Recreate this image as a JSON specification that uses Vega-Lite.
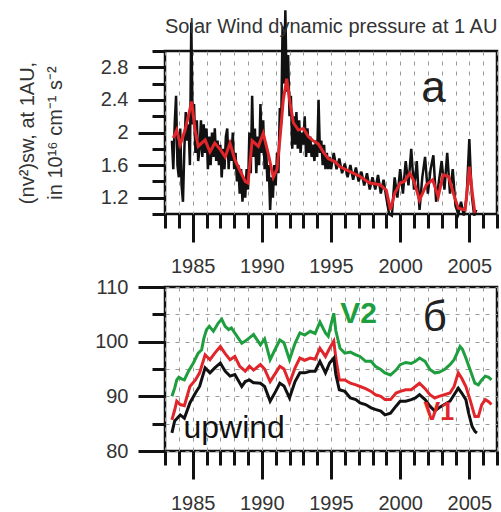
{
  "$schema": "https://vega.github.io/schema/vega-lite/v6.json",
  "padding": {"left": 15, "top": 4, "right": 0, "bottom": 0},
  "spacing": -3,
  "config": {
    "font": "Liberation Sans",
    "view": {"stroke": "#111", "strokeWidth": 2.5},
    "axis": {"domain": false, "tickColor": "#111", "tickWidth": 3, "labelColor": "#333", "labelFontSize": 20, "labelFont": "Liberation Sans", "titleFont": "Liberation Sans", "labelOverlap": false, "labelFlush": false, "gridDash": [4, 6], "gridColor": "#999", "gridWidth": 1}
  },
  "datasets": {
    "tb": [
      {"year":1983.5,"v":1.90},{"year":1983.6,"v":1.55},{"year":1983.7,"v":2.10},{"year":1983.8,"v":2.45},{"year":1983.9,"v":1.60},{"year":1984.0,"v":1.45},{"year":1984.1,"v":2.05},{"year":1984.2,"v":1.35},{"year":1984.3,"v":1.15},{"year":1984.4,"v":1.80},{"year":1984.5,"v":2.25},{"year":1984.6,"v":1.90},{"year":1984.7,"v":2.10},{"year":1984.8,"v":1.60},{"year":1984.9,"v":3.35},{"year":1985.0,"v":2.10},{"year":1985.1,"v":2.35},{"year":1985.2,"v":1.75},{"year":1985.3,"v":2.15},{"year":1985.4,"v":1.65},{"year":1985.5,"v":1.80},{"year":1985.6,"v":2.15},{"year":1985.7,"v":1.70},{"year":1985.8,"v":2.10},{"year":1985.9,"v":1.75},{"year":1986.0,"v":2.05},{"year":1986.1,"v":1.55},{"year":1986.2,"v":1.95},{"year":1986.3,"v":1.60},{"year":1986.4,"v":2.00},{"year":1986.5,"v":1.70},{"year":1986.6,"v":2.05},{"year":1986.7,"v":1.65},{"year":1986.8,"v":1.90},{"year":1986.9,"v":1.60},{"year":1987.0,"v":1.85},{"year":1987.1,"v":1.45},{"year":1987.2,"v":1.80},{"year":1987.3,"v":1.55},{"year":1987.4,"v":1.95},{"year":1987.5,"v":2.05},{"year":1987.6,"v":1.55},{"year":1987.7,"v":1.90},{"year":1987.8,"v":1.65},{"year":1987.9,"v":2.00},{"year":1988.0,"v":1.55},{"year":1988.1,"v":1.75},{"year":1988.2,"v":1.40},{"year":1988.3,"v":1.60},{"year":1988.4,"v":1.25},{"year":1988.5,"v":1.55},{"year":1988.6,"v":1.15},{"year":1988.7,"v":1.45},{"year":1988.8,"v":1.20},{"year":1988.9,"v":1.55},{"year":1989.0,"v":1.30},{"year":1989.1,"v":2.00},{"year":1989.2,"v":1.50},{"year":1989.3,"v":2.45},{"year":1989.4,"v":1.70},{"year":1989.5,"v":2.05},{"year":1989.6,"v":1.50},{"year":1989.7,"v":1.95},{"year":1989.8,"v":1.60},{"year":1989.9,"v":2.35},{"year":1990.0,"v":1.75},{"year":1990.1,"v":2.15},{"year":1990.2,"v":1.55},{"year":1990.3,"v":1.85},{"year":1990.4,"v":1.40},{"year":1990.5,"v":1.60},{"year":1990.6,"v":1.05},{"year":1990.7,"v":1.45},{"year":1990.8,"v":1.20},{"year":1990.9,"v":1.60},{"year":1991.0,"v":1.35},{"year":1991.1,"v":1.75},{"year":1991.2,"v":1.50},{"year":1991.3,"v":2.30},{"year":1991.4,"v":2.10},{"year":1991.5,"v":3.30},{"year":1991.6,"v":2.60},{"year":1991.7,"v":3.50},{"year":1991.8,"v":2.50},{"year":1991.9,"v":2.95},{"year":1992.0,"v":2.20},{"year":1992.1,"v":2.45},{"year":1992.2,"v":1.80},{"year":1992.3,"v":2.20},{"year":1992.4,"v":1.85},{"year":1992.5,"v":2.25},{"year":1992.6,"v":1.80},{"year":1992.7,"v":2.15},{"year":1992.8,"v":1.75},{"year":1992.9,"v":2.00},{"year":1993.0,"v":1.85},{"year":1993.1,"v":2.20},{"year":1993.2,"v":1.70},{"year":1993.3,"v":2.05},{"year":1993.4,"v":1.75},{"year":1993.5,"v":1.95},{"year":1993.6,"v":1.70},{"year":1993.7,"v":1.85},{"year":1993.8,"v":1.65},{"year":1993.9,"v":1.90},{"year":1994.0,"v":1.70},{"year":1994.1,"v":2.40},{"year":1994.2,"v":1.75},{"year":1994.3,"v":1.90},{"year":1994.4,"v":1.60},{"year":1994.5,"v":1.85},{"year":1994.6,"v":1.55},{"year":1994.7,"v":1.75},{"year":1994.8,"v":1.55},{"year":1994.9,"v":1.70},{"year":1995.0,"v":1.55},{"year":1995.2,"v":1.75},{"year":1995.4,"v":1.55},{"year":1995.6,"v":1.68},{"year":1995.8,"v":1.50},{"year":1996.0,"v":1.62},{"year":1996.2,"v":1.45},{"year":1996.4,"v":1.60},{"year":1996.6,"v":1.42},{"year":1996.8,"v":1.57},{"year":1997.0,"v":1.40},{"year":1997.2,"v":1.52},{"year":1997.4,"v":1.35},{"year":1997.6,"v":1.50},{"year":1997.8,"v":1.30},{"year":1998.0,"v":1.45},{"year":1998.2,"v":1.30},{"year":1998.4,"v":1.48},{"year":1998.6,"v":1.25},{"year":1998.8,"v":1.42},{"year":1999.0,"v":1.20},{"year":1999.2,"v":1.00},{"year":1999.4,"v":0.98},{"year":1999.6,"v":1.45},{"year":1999.8,"v":1.20},{"year":2000.0,"v":1.55},{"year":2000.2,"v":1.25},{"year":2000.4,"v":1.65},{"year":2000.6,"v":1.35},{"year":2000.8,"v":1.80},{"year":2001.0,"v":1.30},{"year":2001.2,"v":1.65},{"year":2001.4,"v":1.05},{"year":2001.6,"v":1.45},{"year":2001.8,"v":1.70},{"year":2002.0,"v":1.25},{"year":2002.2,"v":1.55},{"year":2002.4,"v":1.72},{"year":2002.6,"v":1.15},{"year":2002.8,"v":1.40},{"year":2003.0,"v":1.65},{"year":2003.2,"v":1.30},{"year":2003.4,"v":1.75},{"year":2003.6,"v":1.25},{"year":2003.8,"v":1.55},{"year":2004.0,"v":1.10},{"year":2004.2,"v":1.00},{"year":2004.4,"v":1.15},{"year":2004.6,"v":0.98},{"year":2004.8,"v":1.20},{"year":2005.0,"v":1.92},{"year":2005.1,"v":1.50},{"year":2005.2,"v":1.20},{"year":2005.35,"v":0.98},{"year":2005.5,"v":1.05}
    ],
    "tr": [
      {"year":1983.6,"v":1.93},{"year":1983.85,"v":2.03},{"year":1984.1,"v":1.85},{"year":1984.45,"v":2.03},{"year":1984.93,"v":2.38},{"year":1985.17,"v":2.03},{"year":1985.4,"v":1.83},{"year":1985.9,"v":1.91},{"year":1986.25,"v":1.76},{"year":1986.6,"v":1.87},{"year":1987.0,"v":1.79},{"year":1987.35,"v":1.70},{"year":1987.7,"v":1.87},{"year":1988.06,"v":1.66},{"year":1988.4,"v":1.54},{"year":1988.8,"v":1.40},{"year":1989.0,"v":1.38},{"year":1989.3,"v":1.90},{"year":1989.75,"v":1.83},{"year":1990.1,"v":1.99},{"year":1990.45,"v":1.75},{"year":1990.83,"v":1.45},{"year":1991.1,"v":1.55},{"year":1991.35,"v":2.0},{"year":1991.55,"v":2.40},{"year":1991.8,"v":2.66},{"year":1992.04,"v":2.36},{"year":1992.28,"v":2.12},{"year":1992.64,"v":2.03},{"year":1993.0,"v":2.05},{"year":1993.36,"v":1.95},{"year":1993.7,"v":1.90},{"year":1994.08,"v":1.86},{"year":1994.45,"v":1.76},{"year":1994.8,"v":1.68},{"year":1995.3,"v":1.64},{"year":1995.65,"v":1.58},{"year":1996.38,"v":1.52},{"year":1997.1,"v":1.46},{"year":1997.8,"v":1.38},{"year":1998.55,"v":1.36},{"year":1999.0,"v":1.29},{"year":1999.3,"v":1.05},{"year":1999.6,"v":1.25},{"year":2000.0,"v":1.38},{"year":2000.3,"v":1.40},{"year":2000.7,"v":1.50},{"year":2001.0,"v":1.40},{"year":2001.4,"v":1.17},{"year":2001.9,"v":1.36},{"year":2002.35,"v":1.42},{"year":2002.75,"v":1.21},{"year":2003.1,"v":1.48},{"year":2003.5,"v":1.46},{"year":2003.85,"v":1.25},{"year":2004.2,"v":1.07},{"year":2004.7,"v":1.05},{"year":2004.85,"v":1.30},{"year":2005.0,"v":1.58},{"year":2005.25,"v":1.21},{"year":2005.4,"v":1.01}
    ],
    "bg": [
      {"year":1983.5,"v":90.0},{"year":1983.7,"v":91.5},{"year":1983.85,"v":93.0},{"year":1984.0,"v":93.5},{"year":1984.2,"v":93.2},{"year":1984.4,"v":93.0},{"year":1984.7,"v":94.6},{"year":1985.05,"v":96.1},{"year":1985.4,"v":97.9},{"year":1985.65,"v":98.5},{"year":1985.8,"v":100.5},{"year":1986.0,"v":102.2},{"year":1986.2,"v":102.8},{"year":1986.5,"v":101.9},{"year":1986.85,"v":103.4},{"year":1987.1,"v":104.1},{"year":1987.35,"v":102.8},{"year":1987.6,"v":102.2},{"year":1987.8,"v":102.5},{"year":1988.2,"v":101.0},{"year":1988.55,"v":99.7},{"year":1988.8,"v":100.1},{"year":1989.1,"v":100.7},{"year":1989.4,"v":101.3},{"year":1989.9,"v":99.4},{"year":1990.2,"v":100.5},{"year":1990.6,"v":96.7},{"year":1991.0,"v":98.8},{"year":1991.3,"v":100.3},{"year":1991.6,"v":99.8},{"year":1992.0,"v":96.7},{"year":1992.4,"v":99.7},{"year":1992.75,"v":101.6},{"year":1993.1,"v":101.2},{"year":1993.5,"v":101.9},{"year":1993.85,"v":101.5},{"year":1994.2,"v":103.6},{"year":1994.6,"v":101.6},{"year":1994.8,"v":101.0},{"year":1995.2,"v":105.2},{"year":1995.35,"v":102.0},{"year":1995.65,"v":98.8},{"year":1996.0,"v":97.9},{"year":1996.4,"v":98.1},{"year":1996.8,"v":97.6},{"year":1997.1,"v":97.3},{"year":1997.5,"v":96.4},{"year":1997.9,"v":96.4},{"year":1998.2,"v":95.5},{"year":1998.6,"v":94.9},{"year":1998.9,"v":94.3},{"year":1999.3,"v":93.9},{"year":1999.7,"v":94.8},{"year":2000.0,"v":95.8},{"year":2000.4,"v":96.2},{"year":2000.8,"v":96.0},{"year":2001.1,"v":96.4},{"year":2001.4,"v":97.0},{"year":2001.8,"v":96.4},{"year":2002.15,"v":94.9},{"year":2002.5,"v":94.3},{"year":2002.8,"v":94.4},{"year":2003.2,"v":94.9},{"year":2003.6,"v":95.8},{"year":2003.9,"v":96.7},{"year":2004.33,"v":99.1},{"year":2004.5,"v":98.6},{"year":2004.75,"v":97.0},{"year":2005.05,"v":94.9},{"year":2005.4,"v":92.4},{"year":2005.65,"v":92.1},{"year":2005.9,"v":93.0},{"year":2006.15,"v":93.7},{"year":2006.4,"v":93.5},{"year":2006.6,"v":93.0}
    ],
    "br": [
      {"year":1983.5,"v":85.7},{"year":1983.7,"v":87.5},{"year":1983.85,"v":89.1},{"year":1984.1,"v":88.5},{"year":1984.4,"v":88.3},{"year":1984.8,"v":91.8},{"year":1985.2,"v":93.0},{"year":1985.5,"v":94.3},{"year":1985.9,"v":97.6},{"year":1986.25,"v":96.7},{"year":1986.6,"v":97.9},{"year":1987.0,"v":99.1},{"year":1987.35,"v":97.8},{"year":1987.7,"v":96.7},{"year":1988.05,"v":97.3},{"year":1988.4,"v":95.5},{"year":1988.8,"v":94.6},{"year":1989.1,"v":95.5},{"year":1989.4,"v":94.8},{"year":1989.9,"v":95.8},{"year":1990.2,"v":95.0},{"year":1990.6,"v":92.7},{"year":1991.0,"v":94.3},{"year":1991.3,"v":95.5},{"year":1991.6,"v":95.0},{"year":1992.0,"v":92.4},{"year":1992.4,"v":95.2},{"year":1992.75,"v":97.0},{"year":1993.1,"v":96.6},{"year":1993.5,"v":97.0},{"year":1993.85,"v":96.8},{"year":1994.2,"v":98.8},{"year":1994.6,"v":97.3},{"year":1994.9,"v":98.8},{"year":1995.2,"v":100.1},{"year":1995.35,"v":97.0},{"year":1995.6,"v":93.0},{"year":1996.0,"v":93.0},{"year":1996.4,"v":92.4},{"year":1996.8,"v":92.1},{"year":1997.1,"v":91.8},{"year":1997.5,"v":91.4},{"year":1997.9,"v":90.9},{"year":1998.2,"v":90.3},{"year":1998.6,"v":90.0},{"year":1998.9,"v":89.4},{"year":1999.3,"v":89.4},{"year":1999.7,"v":90.6},{"year":2000.0,"v":90.9},{"year":2000.4,"v":91.2},{"year":2000.8,"v":91.2},{"year":2001.1,"v":91.8},{"year":2001.4,"v":92.4},{"year":2001.8,"v":91.4},{"year":2002.15,"v":90.3},{"year":2002.5,"v":89.7},{"year":2002.8,"v":90.0},{"year":2003.2,"v":90.3},{"year":2003.6,"v":90.6},{"year":2003.9,"v":91.8},{"year":2004.2,"v":94.3},{"year":2004.45,"v":93.3},{"year":2004.75,"v":91.8},{"year":2005.05,"v":89.4},{"year":2005.4,"v":86.3},{"year":2005.65,"v":86.3},{"year":2005.9,"v":88.5},{"year":2006.15,"v":89.4},{"year":2006.4,"v":89.0},{"year":2006.6,"v":88.5}
    ],
    "bk": [
      {"year":1983.5,"v":83.3},{"year":1983.7,"v":85.5},{"year":1984.1,"v":86.6},{"year":1984.4,"v":86.0},{"year":1984.8,"v":88.8},{"year":1985.2,"v":90.6},{"year":1985.5,"v":91.8},{"year":1985.9,"v":95.2},{"year":1986.25,"v":94.3},{"year":1986.6,"v":95.2},{"year":1987.0,"v":96.1},{"year":1987.35,"v":94.6},{"year":1987.7,"v":93.7},{"year":1988.05,"v":94.0},{"year":1988.55,"v":91.8},{"year":1988.8,"v":92.7},{"year":1989.1,"v":93.0},{"year":1989.4,"v":92.5},{"year":1989.9,"v":92.4},{"year":1990.2,"v":91.8},{"year":1990.6,"v":89.1},{"year":1991.0,"v":90.9},{"year":1991.3,"v":92.4},{"year":1991.6,"v":91.9},{"year":1992.0,"v":89.7},{"year":1992.4,"v":92.7},{"year":1992.75,"v":94.3},{"year":1993.1,"v":94.3},{"year":1993.5,"v":94.6},{"year":1993.85,"v":94.6},{"year":1994.2,"v":96.4},{"year":1994.6,"v":94.3},{"year":1994.9,"v":96.1},{"year":1995.2,"v":97.0},{"year":1995.35,"v":94.0},{"year":1995.6,"v":91.2},{"year":1996.0,"v":90.9},{"year":1996.4,"v":89.7},{"year":1996.8,"v":89.4},{"year":1997.1,"v":88.8},{"year":1997.5,"v":88.5},{"year":1997.9,"v":87.9},{"year":1998.2,"v":87.6},{"year":1998.6,"v":87.3},{"year":1998.9,"v":86.6},{"year":1999.3,"v":86.9},{"year":1999.7,"v":88.2},{"year":2000.0,"v":89.1},{"year":2000.4,"v":89.1},{"year":2000.8,"v":89.4},{"year":2001.1,"v":89.7},{"year":2001.4,"v":90.3},{"year":2001.8,"v":89.4},{"year":2002.15,"v":88.2},{"year":2002.5,"v":87.3},{"year":2002.8,"v":87.9},{"year":2003.2,"v":88.5},{"year":2003.6,"v":89.1},{"year":2003.9,"v":90.3},{"year":2004.2,"v":91.5},{"year":2004.45,"v":90.6},{"year":2004.75,"v":89.4},{"year":2004.95,"v":86.9},{"year":2005.2,"v":84.5},{"year":2005.4,"v":83.6},{"year":2005.55,"v":83.3}
    ]
  },
  "vconcat": [
    {
      "width": 332,
      "height": 163,
      "title": {"text": "Solar Wind dynamic pressure at 1 AU", "anchor": "start", "frame": "group", "fontSize": 20, "fontWeight": "normal", "color": "#333", "offset": -32},
      "resolve": {"axis": {"x": "independent", "y": "independent"}},
      "layer": [
        {"data": {"name": "tb"}, "mark": {"type": "line", "color": "#111", "strokeWidth": 2.5, "clip": false},
          "encoding": {
            "x": {"field": "year", "type": "quantitative", "scale": {"domain": [1983, 2007], "nice": false, "zero": false},
              "axis": {"orient": "bottom", "values": [1983,1984,1985,1986,1987,1988,1989,1990,1991,1992,1993,1994,1995,1996,1997,1998,1999,2000,2001,2002,2003,2004,2005,2006,2007], "tickSize": 14, "labels": false, "grid": true, "title": null}},
            "y": {"field": "v", "type": "quantitative", "scale": {"domain": [1, 3], "nice": false, "zero": false},
              "axis": {"orient": "left", "values": [1, 1.4, 1.8, 2.2, 2.6, 3], "tickSize": 13, "labels": false, "grid": false, "title": null}}
          }},
        {"data": {"name": "tr"}, "mark": {"type": "line", "color": "#e0262b", "strokeWidth": 3, "clip": false},
          "encoding": {
            "x": {"field": "year", "type": "quantitative", "scale": {"domain": [1983, 2007], "nice": false, "zero": false},
              "axis": {"orient": "bottom", "values": [1985, 1990, 1995, 2000, 2005], "format": "d", "tickSize": 28, "labelPadding": 14, "grid": false, "title": null}},
            "y": {"field": "v", "type": "quantitative", "scale": {"domain": [1, 3], "nice": false, "zero": false},
              "axis": {"orient": "left", "values": [1.2, 1.6, 2, 2.4, 2.8], "format": "~g", "tickSize": 27, "labelPadding": 10, "grid": false, "title": ["(nv²)sw, at 1AU,", "in 10¹⁶ cm⁻¹ s⁻²"], "titleFontSize": 20, "titleFontWeight": "normal", "titleColor": "#333", "titlePadding": 35, "titleLineHeight": 28}}
          }},
        {"data": {"values": [{"year": 2002.4, "v": 2.37, "t": "а"}]}, "mark": {"type": "text", "fontSize": 44, "baseline": "alphabetic", "align": "center", "color": "#222"},
          "encoding": {
            "x": {"field": "year", "type": "quantitative", "axis": null},
            "y": {"field": "v", "type": "quantitative", "axis": null},
            "text": {"field": "t"}
          }}
      ]
    },
    {
      "width": 332,
      "height": 164,
      "resolve": {"axis": {"x": "independent", "y": "independent"}},
      "layer": [
        {"data": {"name": "bg"}, "mark": {"type": "line", "color": "#1e9e3e", "strokeWidth": 3},
          "encoding": {
            "x": {"field": "year", "type": "quantitative", "scale": {"domain": [1983, 2007], "nice": false, "zero": false},
              "axis": {"orient": "bottom", "values": [1983,1984,1985,1986,1987,1988,1989,1990,1991,1992,1993,1994,1995,1996,1997,1998,1999,2000,2001,2002,2003,2004,2005,2006,2007], "tickSize": 14, "labels": false, "grid": true, "title": null}},
            "y": {"field": "v", "type": "quantitative", "scale": {"domain": [80, 110], "nice": false, "zero": false},
              "axis": {"orient": "left", "values": [80, 85, 90, 95, 100, 105, 110], "tickSize": 13, "labels": false, "grid": true, "title": null}}
          }},
        {"data": {"name": "br"}, "mark": {"type": "line", "color": "#e0262b", "strokeWidth": 3},
          "encoding": {
            "x": {"field": "year", "type": "quantitative", "scale": {"domain": [1983, 2007], "nice": false, "zero": false},
              "axis": {"orient": "bottom", "values": [1985, 1990, 1995, 2000, 2005], "format": "d", "tickSize": 28, "labelPadding": 14, "grid": false, "title": null}},
            "y": {"field": "v", "type": "quantitative", "scale": {"domain": [80, 110], "nice": false, "zero": false},
              "axis": {"orient": "left", "values": [80, 90, 100, 110], "format": "d", "tickSize": 27, "labelPadding": 10, "grid": false, "title": null}}
          }},
        {"data": {"name": "bk"}, "mark": {"type": "line", "color": "#111", "strokeWidth": 3},
          "encoding": {
            "x": {"field": "year", "type": "quantitative", "axis": null},
            "y": {"field": "v", "type": "quantitative", "axis": null}
          }},
        {"data": {"values": [{"year": 2002.5, "v": 101.9, "t": "б"}]}, "mark": {"type": "text", "fontSize": 42, "baseline": "alphabetic", "align": "center", "color": "#222"},
          "encoding": {"x": {"field": "year", "type": "quantitative", "axis": null}, "y": {"field": "v", "type": "quantitative", "axis": null}, "text": {"field": "t"}}},
        {"data": {"values": [{"year": 1997.0, "v": 103.4, "t": "V2"}]}, "mark": {"type": "text", "fontSize": 30, "fontWeight": "bold", "baseline": "alphabetic", "align": "center", "color": "#1e9e3e"},
          "encoding": {"x": {"field": "year", "type": "quantitative", "axis": null}, "y": {"field": "v", "type": "quantitative", "axis": null}, "text": {"field": "t"}}},
        {"data": {"values": [{"year": 2002.8, "v": 85.6, "t": "V1"}]}, "mark": {"type": "text", "fontSize": 25, "fontWeight": "bold", "baseline": "alphabetic", "align": "center", "color": "#e0262b"},
          "encoding": {"x": {"field": "year", "type": "quantitative", "axis": null}, "y": {"field": "v", "type": "quantitative", "axis": null}, "text": {"field": "t"}}},
        {"data": {"values": [{"year": 1988.0, "v": 82.4, "t": "upwind"}]}, "mark": {"type": "text", "fontSize": 32, "baseline": "alphabetic", "align": "center", "color": "#111"},
          "encoding": {"x": {"field": "year", "type": "quantitative", "axis": null}, "y": {"field": "v", "type": "quantitative", "axis": null}, "text": {"field": "t"}}}
      ]
    }
  ]
}
